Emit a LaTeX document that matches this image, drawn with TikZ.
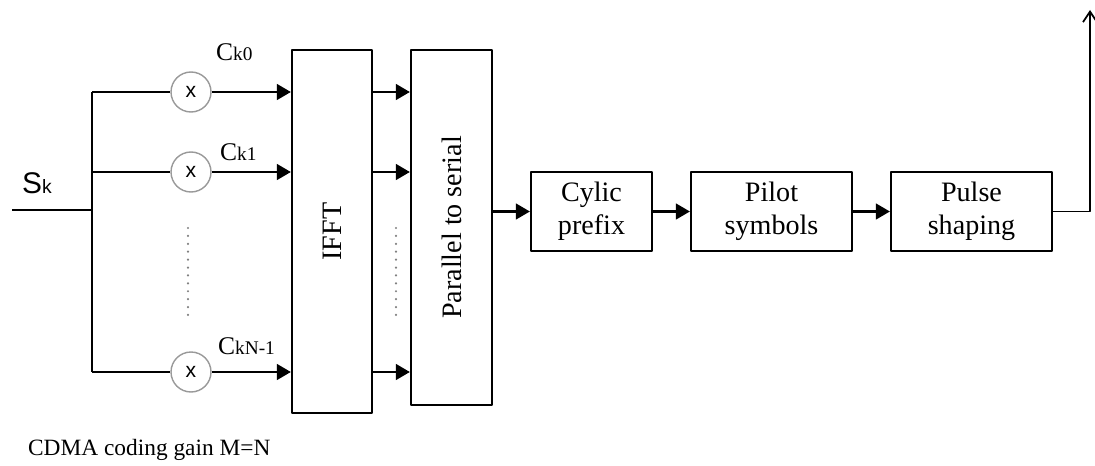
\documentclass[tikz,border=0pt]{standalone}
\usepackage{fontspec}
\setmainfont{Liberation Serif}
\setsansfont{Liberation Sans}
\usetikzlibrary{arrows.meta}
\begin{document}
\begin{tikzpicture}[x=0.02cm, y=-0.02cm, line width=1.3pt, line join=round,
	>={Triangle[length=8pt, width=9pt]},
	font=\fontsize{16}{19}\selectfont,
	blk/.style={draw, line width=1.3pt, align=center, inner sep=0pt},
	mult/.style={draw=gray!80, line width=0.8pt, circle, minimum size=0.8cm, inner sep=0pt,
		font=\sffamily\fontsize{12}{14}\selectfont},
	vdots/.style={draw=gray, line width=1.4pt, line cap=round, dash pattern=on 0pt off 4.5pt},
	clabel/.style={inner sep=0pt}]
	\useasboundingbox (0,0) rectangle (1095,466);
	\path
	(12,210)coordinate (in)
	(92,210)coordinate (split)
	(92,92)coordinate (bus0)
	(92,172)coordinate (bus1)
	(92,372)coordinate (busN)
	(1090,10)coordinate (out)
	;
	% spreading multipliers
	\node[mult] (mul0) at (191,92) {x};
	\node[mult] (mul1) at (191,172) {x};
	\node[mult] (mulN) at (191,372) {x};
	% tall blocks
	\node[blk, minimum width=1.6cm, minimum height=7.26cm] (ifft) at (332,231.5)
		{\rotatebox{90}{IFFT}};
	\node[blk, minimum width=1.62cm, minimum height=7.1cm] (ps) at (451.5,227.5)
		{\rotatebox{90}{Parallel to serial}};
	% serial chain
	\node[blk, minimum width=2.42cm, minimum height=1.58cm] (cp) at (591.5,211.5) {Cylic\\prefix};
	\node[blk, minimum width=3.22cm, minimum height=1.58cm] (pilot) at (771.5,211.5) {Pilot\\symbols};
	\node[blk, minimum width=3.22cm, minimum height=1.58cm] (pulse) at (971.5,211.5) {Pulse\\shaping};

	\draw (in)--(split) (bus0)--(busN);
	\foreach \b/\m in {bus0/mul0,bus1/mul1,busN/mulN}{
		\draw (\b)--(\m);
		\draw[->] (\m)--(\m -| ifft.west);
		\draw[->] (\m -| ifft.east)--(\m -| ps.west);
	}
	\draw[->] (ps.east |- cp)--(cp);
	\draw[->] (cp)--(pilot);
	\draw[->] (pilot)--(pulse);
	\draw[-{Straight Barb[length=6pt, width=8pt]}, line width=1pt] (pulse.east)-|(out);

	\draw[vdots] (188,228)--(188,322);
	\draw[vdots] (396,228)--(396,322);

	\node[anchor=base west, inner sep=0pt] (sk) at (21,193)
		{\sffamily\fontsize{17}{20}\selectfont S\fontsize{11}{13}\selectfont k};
	\node[clabel, anchor=base west] (c0) at (215,61) {\fontsize{14.5}{16}\selectfont C\fontsize{11}{13}\selectfont k0};
	\node[clabel, anchor=base west] (c1) at (219,160) {\fontsize{14.5}{16}\selectfont C\fontsize{11}{13}\selectfont k1};
	\node[clabel, anchor=base west] (cN) at (217,354) {\fontsize{14.5}{16}\selectfont C\fontsize{11}{13}\selectfont kN-1};
	\node[anchor=base west, inner sep=0pt] (gain) at (27,455) {\fontsize{13.3}{16}\selectfont CDMA coding gain M=N};
\end{tikzpicture}
\end{document}
